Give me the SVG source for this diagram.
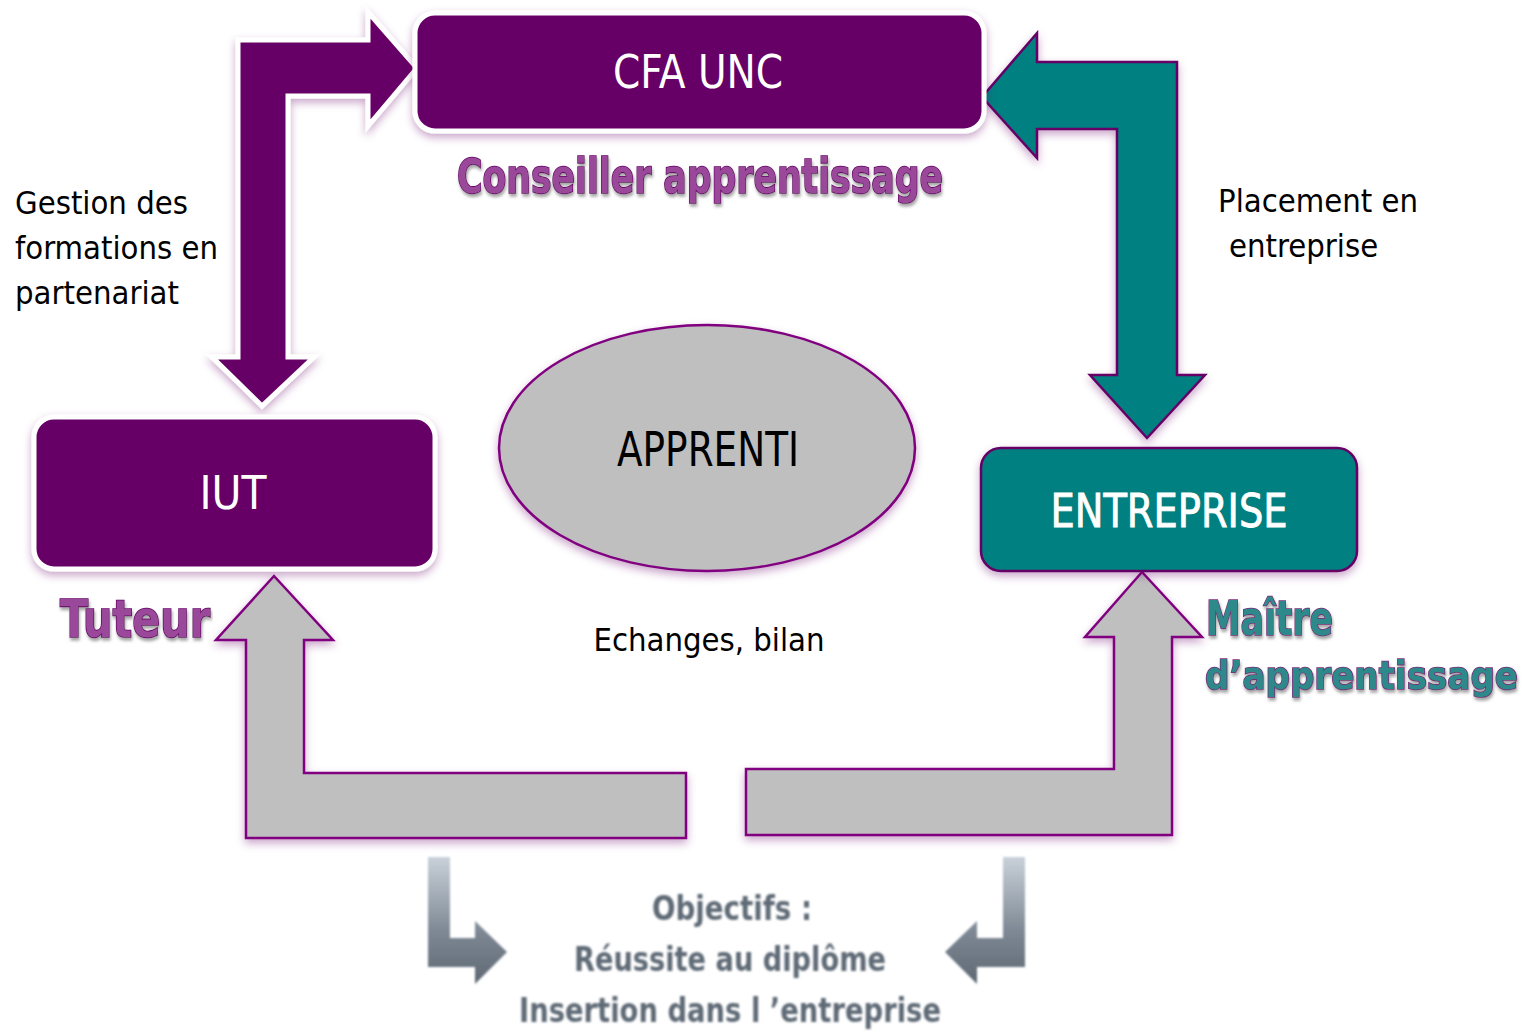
<svg xmlns="http://www.w3.org/2000/svg" width="1531" height="1034" viewBox="0 0 1531 1034">
<defs>
  <filter id="sh" x="-10%" y="-10%" width="120%" height="130%">
    <feDropShadow dx="0" dy="4" stdDeviation="4" flood-color="#660066" flood-opacity="0.35"/>
  </filter>
  <filter id="tsh" x="-2%" y="-20%" width="104%" height="150%">
    <feDropShadow dx="1" dy="3" stdDeviation="1.5" flood-color="#808080" flood-opacity="0.7"/>
  </filter>
  <filter id="blur" x="-10%" y="-10%" width="120%" height="120%">
    <feGaussianBlur stdDeviation="1.2"/>
  </filter>
  <linearGradient id="gr" x1="0" y1="0" x2="0" y2="1">
    <stop offset="0" stop-color="#c9d1d9"/>
    <stop offset="0.6" stop-color="#7d8793"/>
    <stop offset="1" stop-color="#5e6873"/>
  </linearGradient>
  <style>
    .f { font-family: 'DejaVu Sans Condensed', 'DejaVu Sans', 'Liberation Sans', sans-serif; font-stretch: condensed; }
    .lbl { font-size: 32.5px; fill: #000000; }
    .white { fill: #ffffff; font-size: 46px; text-anchor: middle; }
    .role { font-weight: bold; stroke-width: 1.6px; paint-order: stroke; }
    .purple-role { fill: #9a4a9a; stroke: #660066; }
    .teal-role { fill: #2e8a8a; stroke: #7a2a7a; }
    .obj { font-size: 34px; fill: #5f6a76; font-weight: bold; text-anchor: middle; }
  </style>
</defs>

<g id="connectors">
  <!-- IUT <-> CFA (purple, white outline) -->
  <path d="M238,40 L368,40 L368,12 L417,68 L368,126 L368,96 L288,96 L288,357 L314,357 L262,406 L212,357 L238,357 Z"
        fill="#660066" stroke="#ffffff" stroke-width="5" stroke-linejoin="miter" filter="url(#sh)"/>
  <!-- CFA <-> Entreprise (teal) -->
  <path d="M982,97 L1037,33 L1037,62 L1177,62 L1177,375 L1205,375 L1147,438 L1090,375 L1117,375 L1117,129 L1037,129 L1037,158 Z"
        fill="#008080" stroke="#660066" stroke-width="2.5" filter="url(#sh)"/>
  <!-- Echanges left (to IUT) -->
  <path d="M274,576 L333,640 L304,640 L304,773 L686,773 L686,838 L246,838 L246,640 L216,640 Z"
        fill="#bfbfbf" stroke="#800080" stroke-width="2.5" filter="url(#sh)"/>
  <!-- Echanges right (to Entreprise) -->
  <path d="M1142,572 L1202,637 L1172,637 L1172,835 L746,835 L746,769 L1114,769 L1114,637 L1085,637 Z"
        fill="#bfbfbf" stroke="#800080" stroke-width="2.5" filter="url(#sh)"/>
  <!-- Objectifs arrows -->
  <path d="M428,857 L450,857 L450,938 L475,938 L475,921 L507,952 L475,984 L475,967 L428,967 Z" fill="url(#gr)" filter="url(#blur)"/>
  <path d="M1025,857 L1003,857 L1003,938 L977,938 L977,921 L945,952 L977,984 L977,967 L1025,967 Z" fill="url(#gr)" filter="url(#blur)"/>
</g>

<g id="cfa">
  <rect x="415" y="13" width="569" height="118" rx="20" ry="20" fill="#660066" stroke="#ffffff" stroke-width="5" filter="url(#sh)"/>
  <text class="f white" x="698" y="88" textLength="170" lengthAdjust="spacingAndGlyphs">CFA UNC</text>
</g>

<g id="conseiller">
  <text class="f role purple-role" x="700" y="193" font-size="48" text-anchor="middle" textLength="486" lengthAdjust="spacingAndGlyphs" filter="url(#tsh)">Conseiller apprentissage</text>
</g>

<g id="iut">
  <rect x="34" y="417" width="401" height="152" rx="20" ry="20" fill="#660066" stroke="#ffffff" stroke-width="5" filter="url(#sh)"/>
  <text class="f white" x="233" y="509" textLength="67" lengthAdjust="spacingAndGlyphs">IUT</text>
</g>

<g id="tuteur">
  <text class="f role purple-role" x="60" y="637" font-size="52" textLength="150" lengthAdjust="spacingAndGlyphs" filter="url(#tsh)">Tuteur</text>
</g>

<g id="apprenti">
  <ellipse cx="707" cy="448" rx="208" ry="123" fill="#bfbfbf" stroke="#800080" stroke-width="2.5" filter="url(#sh)"/>
  <text class="f" x="708" y="466" font-size="48" fill="#000000" text-anchor="middle" textLength="182" lengthAdjust="spacingAndGlyphs">APPRENTI</text>
</g>

<g id="entreprise">
  <rect x="981" y="448" width="376" height="123" rx="20" ry="20" fill="#008080" stroke="#660066" stroke-width="2.5" filter="url(#sh)"/>
  <text class="f white" x="1169" y="527" stroke="#ffffff" stroke-width="0.8" textLength="237" lengthAdjust="spacingAndGlyphs">ENTREPRISE</text>
</g>

<g id="maitre">
  <text class="f role teal-role" x="1206" y="635" font-size="48" textLength="127" lengthAdjust="spacingAndGlyphs" filter="url(#tsh)">Maître</text>
  <text class="f role teal-role" x="1205" y="689" font-size="39" textLength="313" lengthAdjust="spacingAndGlyphs" filter="url(#tsh)">d’apprentissage</text>
</g>

<g id="gestion">
  <text class="f lbl" x="15" y="214">Gestion des</text>
  <text class="f lbl" x="15" y="259">formations en</text>
  <text class="f lbl" x="15" y="304">partenariat</text>
</g>

<g id="placement">
  <text class="f lbl" x="1218" y="212">Placement en</text>
  <text class="f lbl" x="1229" y="257">entreprise</text>
</g>

<g id="echanges">
  <text class="f lbl" x="709" y="651" text-anchor="middle">Echanges, bilan</text>
</g>

<g id="objectifs" filter="url(#blur)">
  <text class="f obj" x="732" y="920" textLength="160" lengthAdjust="spacingAndGlyphs">Objectifs :</text>
  <text class="f obj" x="730" y="971" textLength="312" lengthAdjust="spacingAndGlyphs">Réussite au diplôme</text>
  <text class="f obj" x="730" y="1022" textLength="422" lengthAdjust="spacingAndGlyphs">Insertion dans l ’entreprise</text>
</g>
</svg>
